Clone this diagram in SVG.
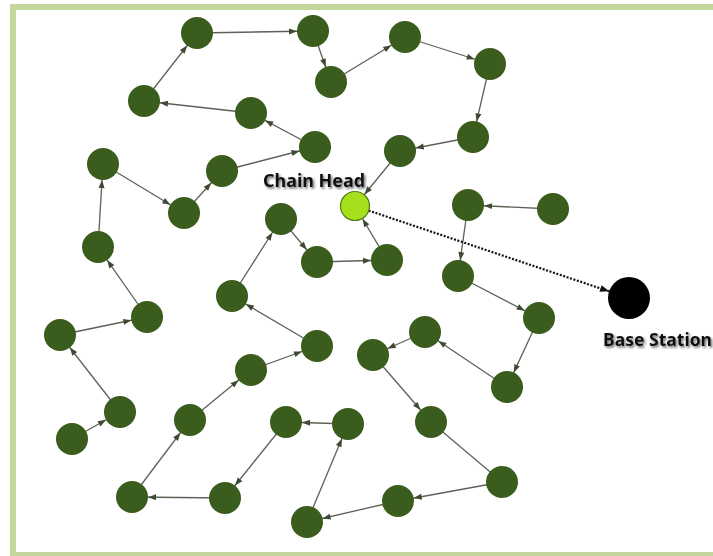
<svg xmlns="http://www.w3.org/2000/svg" width="713" height="556" viewBox="0 0 713 556">
  <defs>
    <style>
      .node { fill: #3a5c1d; }
      .link { stroke: #5c6356; stroke-width: 1.3; fill: none; marker-end: url(#arrow); }
      .plain { stroke: #5c6356; stroke-width: 1.3; fill: none; }
      .label { font-family: "Noto Sans", "Liberation Sans", sans-serif; font-weight: bold; font-size: 17px; fill: #111; filter: url(#shadow); }
    </style>
    <!-- arrow tip sits 16px before the line end, i.e. on the rim of a node -->
    <marker id="arrow" markerUnits="userSpaceOnUse" viewBox="0 0 40 10" markerWidth="40" markerHeight="10" refX="24" refY="3" orient="auto" overflow="visible">
      <path d="M0,0 L8,3 L0,6 z" fill="#3e4a34"/>
    </marker>
    <marker id="arrowHead" markerUnits="userSpaceOnUse" viewBox="0 0 40 10" markerWidth="40" markerHeight="10" refX="23" refY="3" orient="auto" overflow="visible">
      <path d="M0,0 L8,3 L0,6 z" fill="#3e4a34"/>
    </marker>
    <marker id="arrowBS" markerUnits="userSpaceOnUse" viewBox="0 0 40 10" markerWidth="40" markerHeight="10" refX="30" refY="3.5" orient="auto" overflow="visible">
      <path d="M0,0 L9,3.5 L0,7 z" fill="#111"/>
    </marker>
    <filter id="shadow" x="-10%" y="-30%" width="130%" height="170%">
      <feDropShadow dx="1.5" dy="1.8" stdDeviation="1.1" flood-color="#555" flood-opacity="0.85"/>
    </filter>
  </defs>

  <rect x="0" y="0" width="713" height="556" fill="#ffffff"/>
  <rect x="13" y="7" width="720" height="548" fill="none" stroke="#c3d69b" stroke-width="6"/>

  <g id="connectors">
    <!-- chain from the far-left node up and round to the head -->
    <line class="link" x1="72" y1="439" x2="120" y2="412"/>
    <line class="link" x1="120" y1="412" x2="60" y2="335"/>
    <line class="link" x1="60" y1="335" x2="147" y2="317"/>
    <line class="link" x1="147" y1="317" x2="98" y2="247"/>
    <line class="link" x1="98" y1="247" x2="103" y2="164"/>
    <line class="link" x1="103" y1="164" x2="184" y2="213"/>
    <line class="link" x1="184" y1="213" x2="222" y2="171"/>
    <line class="link" x1="222" y1="171" x2="315" y2="147"/>
    <line class="link" x1="315" y1="147" x2="251" y2="113"/>
    <line class="link" x1="251" y1="113" x2="144" y2="101"/>
    <line class="link" x1="144" y1="101" x2="197" y2="33"/>
    <line class="link" x1="197" y1="33" x2="313" y2="31"/>
    <line class="link" x1="313" y1="31" x2="331" y2="82"/>
    <line class="link" x1="331" y1="82" x2="405" y2="37"/>
    <line class="link" x1="405" y1="37" x2="490" y2="64"/>
    <line class="link" x1="490" y1="64" x2="473" y2="137"/>
    <line class="link" x1="473" y1="137" x2="400" y2="151"/>
    <line class="link" style="marker-end:url(#arrowHead)" x1="400" y1="151" x2="355" y2="206"/>

    <!-- chain from the right-hand side round the bottom to the head -->
    <line class="link" x1="553" y1="209" x2="468" y2="205"/>
    <line class="link" x1="468" y1="205" x2="458" y2="276"/>
    <line class="link" x1="458" y1="276" x2="539" y2="318"/>
    <line class="link" x1="539" y1="318" x2="507" y2="387"/>
    <line class="link" x1="507" y1="387" x2="425" y2="332"/>
    <line class="link" x1="425" y1="332" x2="373" y2="355"/>
    <line class="link" x1="373" y1="355" x2="431" y2="422"/>
    <line class="plain" x1="431" y1="422" x2="502" y2="482"/>
    <line class="link" x1="502" y1="482" x2="398" y2="501"/>
    <line class="link" x1="398" y1="501" x2="307" y2="522"/>
    <line class="link" x1="307" y1="522" x2="348" y2="424"/>
    <line class="link" x1="348" y1="424" x2="286" y2="422"/>
    <line class="link" x1="286" y1="422" x2="225" y2="498"/>
    <line class="link" x1="225" y1="498" x2="132" y2="497"/>
    <line class="link" x1="132" y1="497" x2="190" y2="420"/>
    <line class="link" x1="190" y1="420" x2="251" y2="370"/>
    <line class="link" x1="251" y1="370" x2="317" y2="346"/>
    <line class="link" x1="317" y1="346" x2="232" y2="296"/>
    <line class="link" x1="232" y1="296" x2="281" y2="219"/>
    <line class="link" x1="281" y1="219" x2="317" y2="262"/>
    <line class="link" x1="317" y1="262" x2="387" y2="260"/>
    <line class="link" style="marker-end:url(#arrowHead)" x1="387" y1="260" x2="355" y2="206"/>

    <!-- head to base station -->
    <line x1="355" y1="206" x2="629" y2="298" stroke="#111" stroke-width="2.2" stroke-dasharray="2 1.6" marker-end="url(#arrowBS)"/>
  </g>

  <g id="n01"><circle class="node" cx="197" cy="33" r="16"/></g>
  <g id="n02"><circle class="node" cx="313" cy="31" r="16"/></g>
  <g id="n03"><circle class="node" cx="331" cy="82" r="16"/></g>
  <g id="n04"><circle class="node" cx="144" cy="101" r="16"/></g>
  <g id="n05"><circle class="node" cx="251" cy="113" r="16"/></g>
  <g id="n06"><circle class="node" cx="315" cy="147" r="16"/></g>
  <g id="n07"><circle class="node" cx="103" cy="164" r="16"/></g>
  <g id="n08"><circle class="node" cx="222" cy="171" r="16"/></g>
  <g id="n09"><circle class="node" cx="184" cy="213" r="16"/></g>
  <g id="n10"><circle class="node" cx="98" cy="247" r="16"/></g>
  <g id="n11"><circle class="node" cx="281" cy="219" r="16"/></g>
  <g id="n12"><circle class="node" cx="317" cy="262" r="16"/></g>
  <g id="n13"><circle class="node" cx="405" cy="37" r="16"/></g>
  <g id="n14"><circle class="node" cx="490" cy="64" r="16"/></g>
  <g id="n15"><circle class="node" cx="473" cy="137" r="16"/></g>
  <g id="n16"><circle class="node" cx="400" cy="151" r="16"/></g>
  <g id="n17"><circle class="node" cx="387" cy="260" r="16"/></g>
  <g id="n18"><circle class="node" cx="468" cy="205" r="16"/></g>
  <g id="n19"><circle class="node" cx="553" cy="209" r="16"/></g>
  <g id="n20"><circle class="node" cx="458" cy="276" r="16"/></g>
  <g id="n21"><circle class="node" cx="147" cy="317" r="16"/></g>
  <g id="n22"><circle class="node" cx="60" cy="335" r="16"/></g>
  <g id="n23"><circle class="node" cx="120" cy="412" r="16"/></g>
  <g id="n24"><circle class="node" cx="72" cy="439" r="16"/></g>
  <g id="n25"><circle class="node" cx="232" cy="296" r="16"/></g>
  <g id="n26"><circle class="node" cx="317" cy="346" r="16"/></g>
  <g id="n27"><circle class="node" cx="251" cy="370" r="16"/></g>
  <g id="n28"><circle class="node" cx="190" cy="420" r="16"/></g>
  <g id="n29"><circle class="node" cx="132" cy="497" r="16"/></g>
  <g id="n30"><circle class="node" cx="225" cy="498" r="16"/></g>
  <g id="n31"><circle class="node" cx="286" cy="422" r="16"/></g>
  <g id="n32"><circle class="node" cx="348" cy="424" r="16"/></g>
  <g id="n33"><circle class="node" cx="307" cy="522" r="16"/></g>
  <g id="n34"><circle class="node" cx="373" cy="355" r="16"/></g>
  <g id="n35"><circle class="node" cx="539" cy="318" r="16"/></g>
  <g id="n36"><circle class="node" cx="425" cy="332" r="16"/></g>
  <g id="n37"><circle class="node" cx="507" cy="387" r="16"/></g>
  <g id="n38"><circle class="node" cx="431" cy="422" r="16"/></g>
  <g id="n39"><circle class="node" cx="502" cy="482" r="16"/></g>
  <g id="n40"><circle class="node" cx="398" cy="501" r="16"/></g>

  <g id="chain-head">
    <circle cx="355" cy="206" r="14.5" fill="#a6e01c" stroke="#4f7d17" stroke-width="1.2"/>
    <text class="label" x="263" y="187" textLength="102" lengthAdjust="spacingAndGlyphs">Chain Head</text>
  </g>

  <g id="base-station">
    <circle cx="629" cy="298" r="21" fill="#000"/>
    <text class="label" x="603" y="346" textLength="109" lengthAdjust="spacingAndGlyphs">Base Station</text>
  </g>
</svg>
